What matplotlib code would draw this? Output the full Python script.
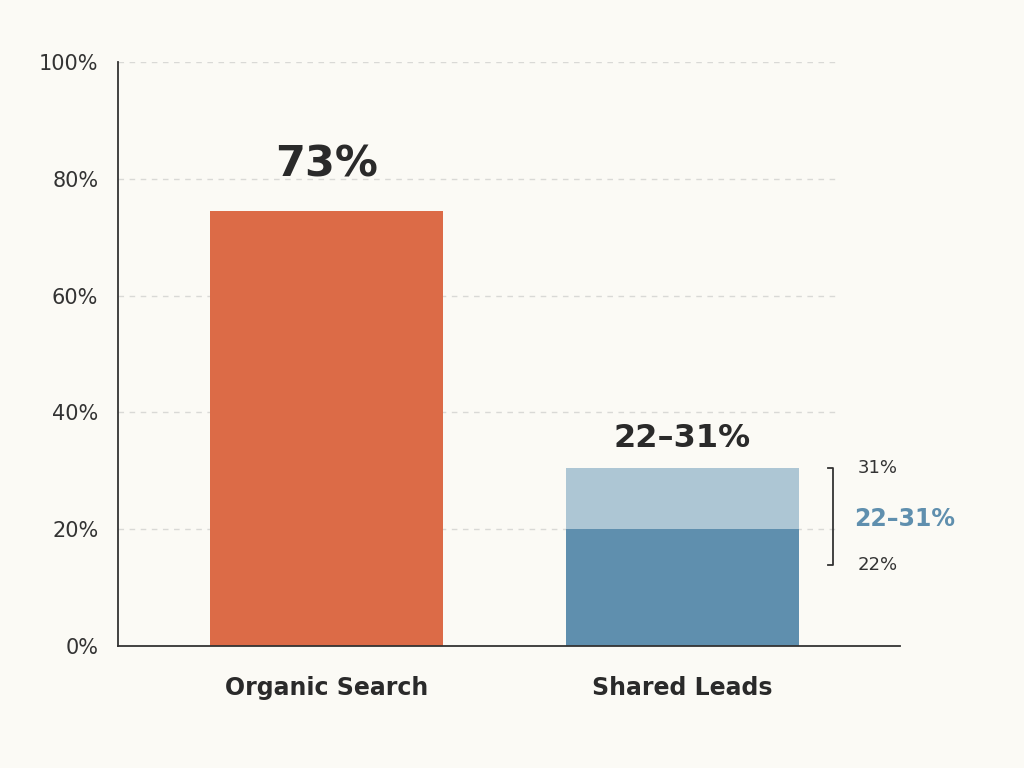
import matplotlib.pyplot as plt

categories = ["Organic Search", "Shared Leads"]
organic_value = 74.5
shared_low = 20.0
shared_high = 30.5
value_labels = ["73%", "22–31%"]
bracket_labels = ["31%", "22–31%", "22%"]
yticks = [0, 20, 40, 60, 80, 100]

bg = "#fbfaf5"
fig = plt.figure(figsize=(10.24, 7.68), dpi=100, facecolor=bg)
ax = fig.add_axes([0.115, 0.159, 0.764, 0.760], facecolor=bg)
ax.set_xlim(-0.589, 1.614)
ax.set_ylim(0, 100)

for y in yticks[1:]:
    ax.hlines(y, -0.589, 1.445, colors="#d9d9d6", linestyles=(0, (4, 4)), linewidth=1, zorder=0)

w = 0.656
ax.bar(0, organic_value, width=w, color="#dc6b47", zorder=2)
ax.bar(1, shared_high, width=w, color="#adc6d4", zorder=2)
ax.bar(1, shared_low, width=w, color="#5f8fae", zorder=2)

ax.text(0, 82.5, value_labels[0], ha="center", va="center", fontsize=31, fontweight="bold", color="#2a2a2a")
ax.text(1, 35.6, value_labels[1], ha="center", va="center", fontsize=23, fontweight="bold", color="#2a2a2a")

# bracket
bx0, bx1 = 1.411, 1.425
ax.plot([bx0, bx1, bx1, bx0], [30.5, 30.5, 13.9, 13.9], color="#333333", linewidth=1.3, clip_on=False)
ax.text(1.495, 30.5, bracket_labels[0], ha="left", va="center", fontsize=13, color="#333333")
ax.text(1.485, 21.8, bracket_labels[1], ha="left", va="center", fontsize=17, fontweight="bold", color="#5f8fae")
ax.text(1.495, 13.9, bracket_labels[2], ha="left", va="center", fontsize=13, color="#333333")

ax.set_yticks(yticks)
ax.set_yticklabels([f"{v}%" for v in yticks], fontsize=15, color="#333333")
ax.set_xticks([0, 1])
ax.set_xticklabels(categories, fontsize=17, fontweight="bold", color="#2a2a2a")
ax.tick_params(axis="y", length=0, pad=14)
ax.tick_params(axis="x", length=0, pad=22)
for s in ["top", "right"]:
    ax.spines[s].set_visible(False)
for s in ["left", "bottom"]:
    ax.spines[s].set_color("#333333")
    ax.spines[s].set_linewidth(1.3)

fig.savefig("out.png", dpi=100, facecolor=bg)
